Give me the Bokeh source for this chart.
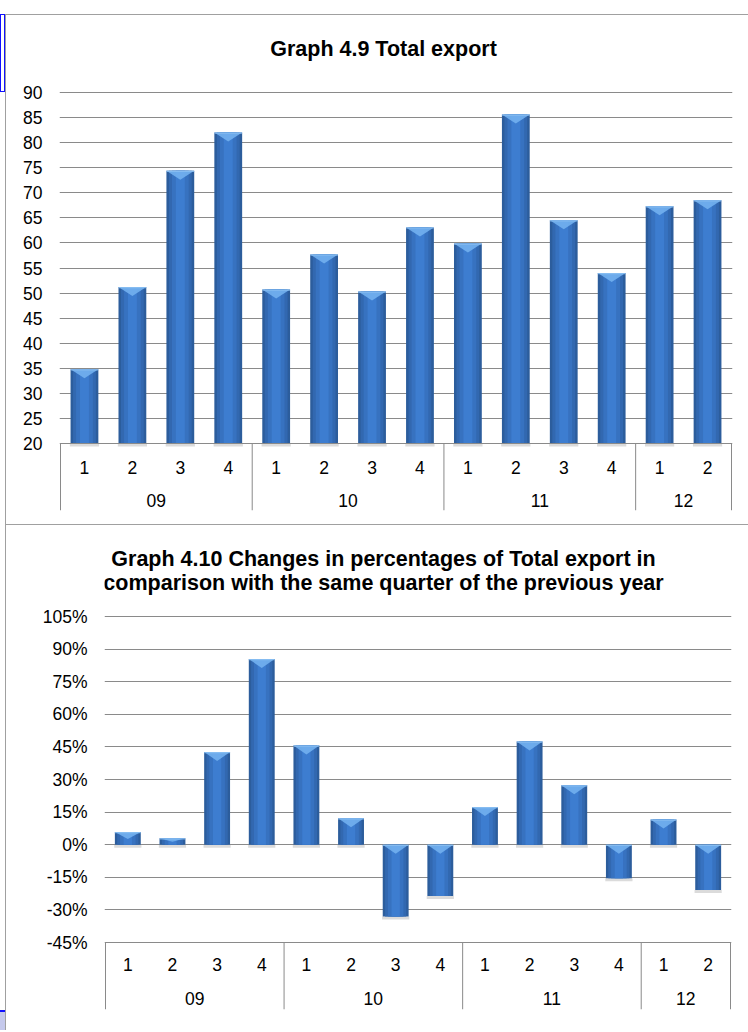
from bokeh.plotting import figure
from bokeh.models import Range1d, FixedTicker, PrintfTickFormatter, Div
from bokeh.layouts import column, row
from bokeh.core.properties import value
from bokeh.embed import file_html
from bokeh.resources import INLINE

# ---------------- data ----------------
years = ["09", "10", "11", "12"]
quarters_per_year = [4, 4, 4, 2]
quarters = ["1", "2", "3", "4", "1", "2", "3", "4", "1", "2", "3", "4", "1", "2"]
total_export = [34.8, 51.2, 74.4, 82.0, 50.7, 57.7, 50.3, 63.1, 59.9, 85.6, 64.5, 54.0, 67.3, 68.5]
change_pct = [5.8, 3.0, 42.6, 85.4, 45.6, 12.2, -33.0, -23.6, 17.3, 47.5, 27.3, -15.4, 11.6, -20.9]
export_ticks = [20, 25, 30, 35, 40, 45, 50, 55, 60, 65, 70, 75, 80, 85, 90]
change_ticks = [-45, -30, -15, 0, 15, 30, 45, 60, 75, 90, 105]
title_export = ["Graph 4.9 Total export"]
title_change = ["Graph 4.10 Changes in percentages of Total export in",
                "comparison with the same quarter of the previous year"]

FONT = "Liberation Sans"
GRID = "#8a8a8a"
TICK_SIZE = "17.5px"
TITLE_SIZE = "21.5px"


def make_chart(vals, ticks, base, fmt, titles, *, width, height, left, right, bottom,
               head_px, axis_px, gap_px, row1_px, row2_px, title_dy, title_cx):
    n = len(vals)
    lo, hi = ticks[0], ticks[-1]
    frame_w = width - left - right
    unit_px = frame_w / n
    ppu = axis_px / (hi - lo)
    padx = 1.0 / unit_px
    y_start = lo - gap_px / ppu
    y_end = hi + head_px / ppu
    p = figure(width=width, height=height,
               x_range=Range1d(-padx, n + padx), y_range=Range1d(y_start, y_end),
               min_border_left=left - 1, min_border_right=right - 1,
               min_border_top=0, min_border_bottom=bottom,
               x_axis_location=None, toolbar_location=None, tools="",
               output_backend="svg")
    p.frame_align = False
    p.outline_line_color = None
    p.background_fill_color = "white"
    p.border_fill_color = "white"
    p.xgrid.visible = False
    p.ygrid.ticker = FixedTicker(ticks=ticks)
    p.ygrid.grid_line_color = GRID
    p.ygrid.grid_line_width = 1
    ax = p.yaxis[0]
    ax.ticker = FixedTicker(ticks=ticks)
    ax.formatter = PrintfTickFormatter(format=fmt)
    ax.axis_line_color = None
    ax.major_tick_line_color = None
    ax.minor_tick_line_color = None
    ax.major_tick_out = 0
    ax.major_tick_in = 0
    ax.minor_tick_out = 0
    ax.minor_tick_in = 0
    ax.major_label_standoff = 17
    ax.major_label_text_font = FONT
    ax.major_label_text_font_size = TICK_SIZE
    ax.major_label_text_color = "black"

    xs = [i + 0.5 for i in range(n)]
    tops = [max(v, base) for v in vals]
    bots = [min(v, base) for v in vals]
    w = 0.58
    # soft shadow under the bar ends
    shadow_h = 3.0 / ppu
    p.vbar(x=xs, width=w * 1.05, top=bots, bottom=[b - shadow_h for b in bots],
           fill_color="#bdbdbd", fill_alpha=0.55, line_color=None)
    # cylinder-like shading with layered bars
    for frac, col in [(1.0, "#2c5d9c"), (0.82, "#3268b0"), (0.6, "#3772c0"), (0.32, "#3d7dd0")]:
        p.vbar(x=xs, width=w * frac, top=tops, bottom=bots, fill_color=col, line_color=None)
    # light bevel triangle at the upper end of each bar
    tri_px = 9.0
    txs, tys = [], []
    for x, t, b in zip(xs, tops, bots):
        h = min(tri_px / ppu, 0.55 * (t - b))
        txs.append([x - w / 2, x + w / 2, x])
        tys.append([t, t, t - h])
    p.patches(txs, tys, fill_color="#72b0ee", fill_alpha=0.9, line_color=None)
    p.vbar(x=xs, width=w, top=tops, bottom=[t - 1.2 / ppu for t in tops],
           fill_color="#8cc1f3", fill_alpha=0.8, line_color=None)

    # category axis (two levels)
    p.segment(x0=[0], y0=[lo], x1=[n], y1=[lo], line_color=GRID, line_width=1)
    bounds = [0]
    for c in quarters_per_year:
        bounds.append(bounds[-1] + c)
    p.segment(x0=bounds, y0=[lo] * len(bounds), x1=bounds, y1=[y_start] * len(bounds),
              line_color=GRID, line_width=1)
    p.text(x=xs, y=[lo - row1_px / ppu] * n, text=quarters,
           text_align="center", text_baseline="middle",
           text_font=value(FONT), text_font_size=TICK_SIZE, text_color="black")
    ycx = [(bounds[i] + bounds[i + 1]) / 2 for i in range(len(years))]
    p.text(x=ycx, y=[lo - row2_px / ppu] * len(years), text=years,
           text_align="center", text_baseline="middle",
           text_font=value(FONT), text_font_size=TICK_SIZE, text_color="black")

    # chart title (inside the frame, above the value range)
    p.text(x=[title_cx / unit_px] * len(titles), y=[hi + dy / ppu for dy in title_dy],
           text=titles, text_align="center", text_baseline="middle",
           text_font=value(FONT), text_font_size=TITLE_SIZE, text_font_style="bold",
           text_color="black")
    return p


p1 = make_chart(total_export, export_ticks, export_ticks[0], "%d", title_export,
                width=742, height=509, left=54, right=17, bottom=14,
                head_px=77, axis_px=351, gap_px=67, row1_px=23.5, row2_px=56.5,
                title_dy=[44], title_cx=323)

p2 = make_chart(change_pct, change_ticks, 0, "%d%%", title_change,
                width=742, height=505, left=99, right=18, bottom=21,
                head_px=91, axis_px=326, gap_px=67, row1_px=22, row2_px=56,
                title_dy=[58, 34], title_cx=278)


def box(w, h, styles):
    return Div(text="", width=w, height=h, margin=(0, 0, 0, 0), styles=styles)


GRAY = {"background-color": "#a0a0a0", "overflow": "hidden"}
WHITE = {"background-color": "white", "overflow": "hidden"}

main = column(box(742, 14, WHITE), box(742, 1, GRAY), p1, box(742, 1, GRAY), p2, spacing=0)
frame_left = column(box(1, 14, WHITE), box(1, 1016, GRAY), spacing=0)
marks = column(box(5, 14, WHITE),
               box(5, 78, {"border": "1px solid #1010ff", "box-sizing": "border-box",
                           "background-color": "white", "overflow": "hidden"}),
               box(5, 918, WHITE),
               box(5, 20, {"border-top": "2px solid #1010ff", "box-sizing": "border-box",
                           "background-color": "#c5c9ec", "overflow": "hidden"}),
               spacing=0)
layout = row(marks, frame_left, main, spacing=0)

open("out.html", "w").write(file_html(layout, INLINE))
